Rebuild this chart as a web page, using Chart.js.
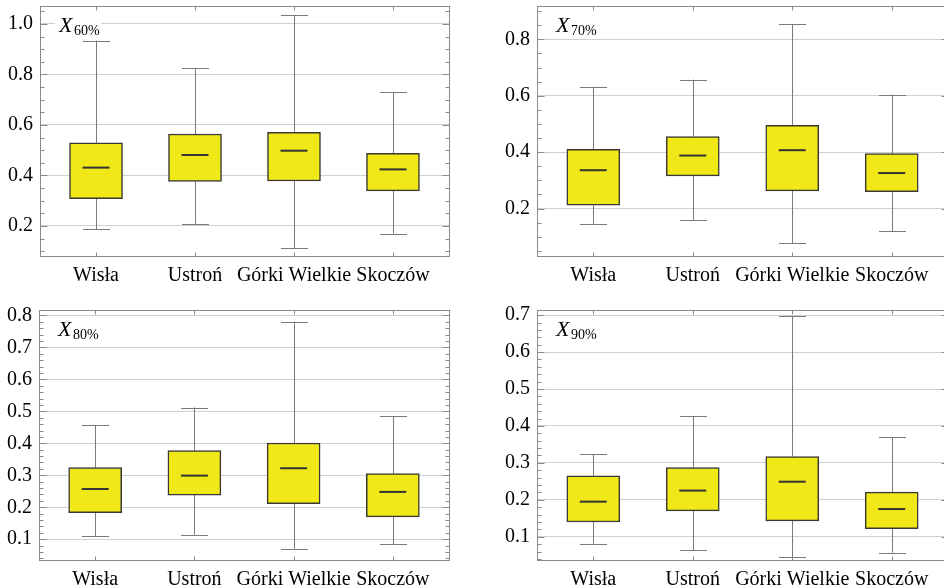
<!DOCTYPE html>
<html>
<head>
<meta charset="utf-8">
<script src="https://cdn.jsdelivr.net/npm/chart.js@4/dist/chart.umd.min.js"></script>
<style>
html,body{margin:0;padding:0;background:#fff;overflow:hidden;width:944px;height:588px;}
canvas{position:absolute;}
</style>
</head>
<body>
<canvas id="c1" width="472" height="294" style="left:0;top:0"></canvas>
<canvas id="c2" width="480" height="294" style="left:472px;top:0"></canvas>
<canvas id="c3" width="472" height="310" style="left:0;top:294px"></canvas>
<canvas id="c4" width="480" height="310" style="left:472px;top:294px"></canvas>
<script>
const categories = ['Wisła', 'Ustroń', 'Górki Wielkie', 'Skoczów'];

const x60Lower  = [0.186, 0.208, 0.112, 0.170];
const x60Q1     = [0.308, 0.376, 0.378, 0.339];
const x60Median = [0.431, 0.481, 0.498, 0.424];
const x60Q3     = [0.529, 0.564, 0.571, 0.488];
const x60Upper  = [0.934, 0.824, 1.034, 0.729];
const x60Ticks  = [0.2, 0.4, 0.6, 0.8, 1.0];

const x70Lower  = [0.146, 0.161, 0.078, 0.119];
const x70Q1     = [0.212, 0.316, 0.263, 0.260];
const x70Median = [0.336, 0.388, 0.407, 0.326];
const x70Q3     = [0.410, 0.455, 0.495, 0.395];
const x70Upper  = [0.632, 0.657, 0.854, 0.604];
const x70Ticks  = [0.2, 0.4, 0.6, 0.8];

const x80Lower  = [0.110, 0.114, 0.070, 0.084];
const x80Q1     = [0.183, 0.238, 0.211, 0.170];
const x80Median = [0.257, 0.299, 0.322, 0.248];
const x80Q3     = [0.324, 0.377, 0.401, 0.305];
const x80Upper  = [0.456, 0.512, 0.781, 0.484];
const x80Ticks  = [0.1, 0.2, 0.3, 0.4, 0.5, 0.6, 0.7, 0.8];

const x90Lower  = [0.081, 0.064, 0.044, 0.057];
const x90Q1     = [0.140, 0.170, 0.143, 0.122];
const x90Median = [0.195, 0.225, 0.249, 0.175];
const x90Q3     = [0.265, 0.287, 0.317, 0.221];
const x90Upper  = [0.324, 0.426, 0.698, 0.369];
const x90Ticks  = [0.1, 0.2, 0.3, 0.4, 0.5, 0.6, 0.7];

const panels = [
  {id:'c1', sub:'60%', lower:x60Lower, q1:x60Q1, med:x60Median, q3:x60Q3, upper:x60Upper, ticks:x60Ticks,
   ymin:0.081, ymax:1.071, minor:0.05, left:40, right:23, top:6, xh:38},
  {id:'c2', sub:'70%', lower:x70Lower, q1:x70Q1, med:x70Median, q3:x70Q3, upper:x70Upper, ticks:x70Ticks,
   ymin:0.032, ymax:0.918, minor:0.05, left:65, right:4, top:6, xh:38},
  {id:'c3', sub:'80%', lower:x80Lower, q1:x80Q1, med:x80Median, q3:x80Q3, upper:x80Upper, ticks:x80Ticks,
   ymin:0.035, ymax:0.817, minor:0.02, left:39, right:23, top:16, xh:44},
  {id:'c4', sub:'90%', lower:x90Lower, q1:x90Q1, med:x90Median, q3:x90Q3, upper:x90Upper, ticks:x90Ticks,
   ymin:0.037, ymax:0.714, minor:0.02, left:65, right:4, top:16, xh:44}
];

const FONT = '"Liberation Serif", "Times New Roman", serif';

const boxPlugin = {
  id: 'boxParts',
  beforeDatasetsDraw(chart) {
    const p = chart.options.plugins.boxParts;
    const ctx = chart.ctx, xs = chart.scales.x, ys = chart.scales.y, ca = chart.chartArea;
    ctx.save();
    ctx.fillStyle = '#fff';
    ctx.fillRect(ca.left + 15, ca.top + 8, 46, 24);
    ctx.fillStyle = '#000';
    ctx.textBaseline = 'alphabetic';
    ctx.font = 'italic 22px ' + FONT;
    ctx.fillText('X', ca.left + 19, ca.top + 26);
    ctx.font = '14px ' + FONT;
    ctx.fillText(p.sub, ca.left + 34, ca.top + 29);
    ctx.strokeStyle = '#7a7a7a';
    ctx.lineWidth = 1;
    for (let i = 0; i < categories.length; i++) {
      const x = Math.round(xs.getPixelForValue(i)) + 0.5;
      const yl = ys.getPixelForValue(p.lower[i]), yq1 = ys.getPixelForValue(p.q1[i]);
      const yq3 = ys.getPixelForValue(p.q3[i]), yu = ys.getPixelForValue(p.upper[i]);
      ctx.beginPath();
      ctx.moveTo(x, yl); ctx.lineTo(x, yq1);
      ctx.moveTo(x, yq3); ctx.lineTo(x, yu);
      ctx.moveTo(x - 13.5, Math.round(yl) + 0.5); ctx.lineTo(x + 13.5, Math.round(yl) + 0.5);
      ctx.moveTo(x - 13.5, Math.round(yu) + 0.5); ctx.lineTo(x + 13.5, Math.round(yu) + 0.5);
      ctx.stroke();
    }
    ctx.restore();
  },
  afterDatasetsDraw(chart) {
    const p = chart.options.plugins.boxParts;
    const ctx = chart.ctx, xs = chart.scales.x, ys = chart.scales.y, ca = chart.chartArea;
    ctx.save();
    ctx.strokeStyle = '#333';
    ctx.lineWidth = 2;
    for (let i = 0; i < categories.length; i++) {
      const x = xs.getPixelForValue(i);
      const ym = ys.getPixelForValue(p.med[i]);
      ctx.beginPath();
      ctx.moveTo(x - 13.5, ym); ctx.lineTo(x + 13.5, ym);
      ctx.stroke();
    }
    ctx.strokeStyle = '#8a8a8a';
    ctx.lineWidth = 1;
    const L = Math.round(ca.left) + 0.5, R = Math.round(ca.right) + 0.5;
    const T = Math.round(ca.top) + 0.5, B = Math.round(ca.bottom) + 0.5;
    ctx.strokeRect(L, T, R - L, B - T);
    ctx.beginPath();
    const n0 = Math.ceil(p.ymin / p.minor), n1 = Math.floor(p.ymax / p.minor);
    for (let k = n0; k <= n1; k++) {
      const v = k * p.minor;
      const y = Math.round(ys.getPixelForValue(v)) + 0.5;
      const major = p.ticks.some(t => Math.abs(t - v) < 1e-6);
      const len = major ? 7 : 4;
      ctx.moveTo(L, y); ctx.lineTo(L + len, y);
      ctx.moveTo(R, y); ctx.lineTo(R - len, y);
    }
    for (let i = 0; i < categories.length; i++) {
      const x = Math.round(xs.getPixelForValue(i)) + 0.5;
      ctx.moveTo(x, T); ctx.lineTo(x, T + 4);
      ctx.moveTo(x, B); ctx.lineTo(x, B - 4);
    }
    ctx.stroke();
    ctx.restore();
  }
};

panels.forEach(p => {
  new Chart(document.getElementById(p.id), {
    type: 'bar',
    data: {
      datasets: [{
        data: categories.map((c, i) => ({x: i, y: [p.q1[i], p.q3[i]]})),
        backgroundColor: '#f1e917',
        borderColor: '#383838',
        borderWidth: 1.5,
        borderSkipped: false,
        barThickness: 53
      }]
    },
    options: {
      responsive: false,
      animation: false,
      devicePixelRatio: 1,
      layout: {padding: {left: 0, right: p.right, top: p.top, bottom: 0}},
      plugins: {
        legend: {display: false},
        tooltip: {enabled: false},
        boxParts: p
      },
      scales: {
        x: {
          type: 'linear',
          offset: false,
          min: -0.566,
          max: 3.566,
          afterBuildTicks: s => { s.ticks = categories.map((c, i) => ({value: i})); },
          afterFit: s => { s.height = p.xh; s.paddingLeft = 0; s.paddingRight = 0; },
          grid: {display: false, drawTicks: false, offset: false},
          border: {display: false},
          ticks: {
            callback: v => categories[v],
            font: {family: FONT, size: 20},
            color: '#000',
            padding: 8,
            maxRotation: 0,
            autoSkip: false
          }
        },
        y: {
          min: p.ymin,
          max: p.ymax,
          afterBuildTicks: s => { s.ticks = p.ticks.map(v => ({value: v})); },
          afterFit: s => { s.width = p.left; s.paddingTop = 0; s.paddingBottom = 0; },
          grid: {color: '#d0d0d0', lineWidth: 1, drawTicks: false},
          border: {display: false},
          ticks: {
            callback: v => v.toFixed(1),
            font: {family: FONT, size: 20},
            color: '#000',
            padding: 7
          }
        }
      }
    },
    plugins: [boxPlugin]
  });
});
</script>
</body>
</html>
